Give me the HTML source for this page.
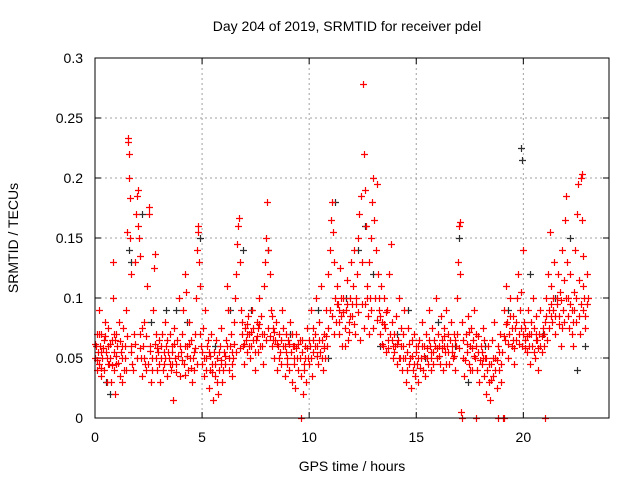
<!DOCTYPE html>
<html><head><meta charset="utf-8"><style>
html,body{margin:0;padding:0;background:#fff;}
svg{display:block;font-family:"Liberation Sans",sans-serif;}
</style></head><body>
<svg id="chart" width="640" height="480">
<text x="347" y="31" font-size="14" text-anchor="middle">Day 204 of 2019, SRMTID for receiver pdel</text>
<text x="352" y="471" font-size="14" text-anchor="middle">GPS time / hours</text>
<text transform="translate(18,238) rotate(-90)" font-size="14" text-anchor="middle">SRMTID / TECUs</text>
<g id="grid"></g>
<g id="ticks"></g>
<g id="black"></g>
<g id="red"></g>
<rect x="95" y="58" width="514" height="360" fill="none" stroke="#000" stroke-width="1"/>
</svg>
<script>
const xTicks=[0,5,10,15,20];
const yTicks=[0,0.05,0.1,0.15,0.2,0.25,0.3];
const yTickLabels=["0","0.05","0.1","0.15","0.2","0.25","0.3"];
const blackPts=[[0.5,0.03],[0.7,0.02],[1.6,0.14],[1.7,0.13],[2.2,0.17],[2.6,0.08],[3.3,0.09],[3.8,0.09],[4.3,0.08],[4.9,0.15],[5.6,0.06],[6.3,0.09],[6.9,0.14],[7.3,0.09],[8.1,0.14],[9.1,0.07],[10.4,0.09],[10.9,0.05],[11.2,0.18],[11.7,0.1],[12.3,0.14],[12.6,0.16],[13.0,0.12],[13.3,0.06],[14.1,0.07],[14.6,0.09],[15.4,0.05],[16.0,0.08],[16.8,0.06],[17.0,0.15],[17.4,0.03],[18.2,0.06],[19.3,0.09],[19.9,0.225],[19.95,0.215],[20.3,0.12],[20.9,0.07],[21.5,0.1],[22.2,0.15],[22.5,0.04],[22.9,0.06]];
const redPts=[
[0.0,0.05],[0.05,0.06],[0.1,0.04],[0.1,0.07],[0.15,0.055],[0.2,0.045],[0.2,0.09],[0.25,0.06],[0.3,0.035],[0.3,0.07],[0.35,0.05],[0.4,0.065],[0.4,0.04],[0.45,0.08],[0.5,0.055],[0.55,0.03],[0.6,0.06],[0.6,0.075],[0.65,0.045],[0.7,0.05],[0.75,0.03],[0.8,0.065],[0.85,0.1],[0.85,0.13],[0.9,0.055],[0.9,0.04],[0.95,0.02],[1.0,0.07],[1.0,0.045],[1.05,0.06],[1.1,0.08],[1.15,0.035],[1.2,0.055],[1.25,0.05],[1.3,0.075],[1.35,0.04],[1.4,0.06],[1.45,0.09],[1.5,0.155],[1.55,0.23],[1.55,0.233],[1.58,0.22],[1.6,0.2],[1.62,0.183],[1.65,0.15],[1.7,0.12],[1.7,0.06],[1.75,0.045],[1.8,0.07],[1.85,0.13],[1.9,0.17],[1.95,0.185],[2.0,0.19],[2.0,0.16],[2.05,0.15],[2.1,0.135],[2.1,0.07],[2.15,0.05],[2.2,0.035],[2.25,0.06],[2.3,0.08],[2.35,0.045],[2.4,0.04],[2.45,0.11],[2.5,0.17],[2.5,0.176],[2.55,0.06],[2.6,0.03],[2.65,0.05],[2.7,0.09],[2.75,0.125],[2.8,0.137],[2.85,0.07],[2.9,0.04],[2.95,0.055],[3.0,0.065],[3.05,0.03],[3.1,0.05],[3.15,0.07],[3.2,0.045],[3.25,0.08],[3.3,0.06],[3.35,0.035],[3.4,0.055],[3.45,0.05],[3.5,0.07],[3.55,0.04],[3.6,0.06],[3.65,0.015],[3.7,0.075],[3.75,0.05],[3.8,0.045],[3.85,0.065],[3.9,0.1],[3.95,0.035],[4.0,0.055],[4.05,0.07],[4.1,0.09],[4.15,0.045],[4.2,0.12],[4.25,0.105],[4.3,0.06],[4.35,0.04],[4.4,0.08],[4.45,0.05],[4.5,0.065],[4.55,0.03],[4.6,0.055],[4.65,0.07],[4.7,0.1],[4.75,0.14],[4.8,0.16],[4.82,0.155],[4.85,0.13],[4.9,0.11],[4.95,0.06],[5.0,0.045],[5.05,0.075],[5.1,0.035],[5.15,0.09],[5.2,0.05],[5.25,0.06],[5.3,0.025],[5.35,0.04],[5.4,0.07],[5.45,0.045],[5.5,0.015],[5.55,0.055],[5.6,0.035],[5.65,0.065],[5.7,0.05],[5.75,0.02],[5.8,0.04],[5.85,0.06],[5.9,0.075],[5.95,0.03],[6.0,0.055],[6.05,0.045],[6.1,0.065],[6.15,0.11],[6.2,0.09],[6.25,0.04],[6.3,0.06],[6.35,0.07],[6.4,0.035],[6.45,0.05],[6.5,0.08],[6.55,0.1],[6.6,0.12],[6.65,0.145],[6.7,0.16],[6.72,0.167],[6.75,0.13],[6.8,0.09],[6.85,0.07],[6.9,0.06],[6.95,0.045],[7.0,0.075],[7.05,0.065],[7.1,0.055],[7.15,0.085],[7.2,0.07],[7.25,0.05],[7.3,0.06],[7.35,0.09],[7.4,0.075],[7.45,0.04],[7.5,0.065],[7.55,0.08],[7.6,0.055],[7.65,0.1],[7.7,0.06],[7.75,0.085],[7.8,0.07],[7.85,0.045],[7.9,0.11],[7.95,0.13],[8.0,0.15],[8.05,0.18],[8.1,0.14],[8.15,0.12],[8.2,0.09],[8.25,0.06],[8.3,0.075],[8.35,0.05],[8.4,0.065],[8.45,0.08],[8.5,0.04],[8.55,0.06],[8.6,0.07],[8.65,0.055],[8.7,0.045],[8.75,0.09],[8.8,0.06],[8.85,0.035],[8.9,0.07],[8.95,0.05],[9.0,0.065],[9.05,0.04],[9.1,0.08],[9.15,0.055],[9.2,0.03],[9.25,0.06],[9.3,0.045],[9.35,0.025],[9.4,0.07],[9.45,0.05],[9.5,0.04],[9.55,0.065],[9.6,0.035],[9.6,0.0],[9.65,0.055],[9.7,0.02],[9.75,0.045],[9.8,0.06],[9.85,0.03],[9.9,0.075],[9.95,0.05],[10.0,0.045],[10.05,0.06],[10.1,0.09],[10.15,0.035],[10.2,0.055],[10.25,0.07],[10.3,0.1],[10.35,0.06],[10.4,0.045],[10.45,0.08],[10.5,0.055],[10.55,0.11],[10.6,0.065],[10.65,0.04],[10.7,0.07],[10.75,0.05],[10.8,0.09],[10.85,0.06],[10.9,0.12],[10.95,0.14],[11.0,0.165],[11.05,0.18],[11.1,0.155],[11.15,0.13],[11.2,0.1],[11.25,0.08],[11.3,0.11],[11.35,0.095],[11.4,0.07],[11.45,0.125],[11.5,0.085],[11.55,0.06],[11.6,0.1],[11.65,0.075],[11.7,0.09],[11.75,0.115],[11.8,0.065],[11.85,0.08],[11.9,0.1],[11.95,0.13],[12.0,0.085],[12.05,0.11],[12.1,0.14],[12.15,0.07],[12.2,0.095],[12.25,0.12],[12.3,0.15],[12.35,0.17],[12.4,0.185],[12.45,0.13],[12.5,0.278],[12.55,0.22],[12.6,0.19],[12.65,0.16],[12.7,0.11],[12.75,0.085],[12.8,0.13],[12.85,0.1],[12.9,0.15],[12.95,0.18],[13.0,0.2],[13.05,0.165],[13.1,0.14],[13.15,0.195],[13.2,0.12],[13.25,0.09],[13.3,0.07],[13.35,0.11],[13.4,0.08],[13.45,0.06],[13.5,0.1],[13.55,0.075],[13.6,0.055],[13.65,0.09],[13.7,0.065],[13.75,0.12],[13.8,0.145],[13.85,0.08],[13.9,0.05],[13.95,0.07],[14.0,0.06],[14.05,0.085],[14.1,0.045],[14.15,0.065],[14.2,0.1],[14.25,0.05],[14.3,0.075],[14.35,0.04],[14.4,0.06],[14.45,0.09],[14.5,0.03],[14.55,0.055],[14.6,0.075],[14.65,0.045],[14.7,0.05],[14.75,0.025],[14.8,0.065],[14.85,0.04],[14.9,0.07],[14.95,0.035],[15.0,0.055],[15.05,0.045],[15.1,0.03],[15.15,0.065],[15.2,0.05],[15.25,0.08],[15.3,0.04],[15.35,0.06],[15.4,0.035],[15.45,0.07],[15.5,0.05],[15.55,0.045],[15.6,0.09],[15.65,0.06],[15.7,0.04],[15.75,0.075],[15.8,0.055],[15.85,0.065],[15.9,0.1],[15.95,0.05],[16.0,0.07],[16.05,0.06],[16.1,0.045],[16.15,0.085],[16.2,0.065],[16.25,0.04],[16.3,0.075],[16.35,0.055],[16.4,0.09],[16.45,0.06],[16.5,0.07],[16.55,0.045],[16.6,0.08],[16.65,0.055],[16.7,0.05],[16.75,0.07],[16.8,0.04],[16.85,0.06],[16.9,0.1],[16.95,0.13],[17.0,0.16],[17.02,0.163],[17.05,0.12],[17.1,0.005],[17.15,0.0],[17.15,0.08],[17.2,0.05],[17.25,0.035],[17.3,0.07],[17.35,0.055],[17.4,0.085],[17.45,0.045],[17.5,0.06],[17.55,0.075],[17.6,0.04],[17.65,0.065],[17.7,0.09],[17.75,0.05],[17.8,0.0],[17.8,0.07],[17.85,0.04],[17.9,0.055],[17.95,0.03],[18.0,0.06],[18.05,0.045],[18.1,0.075],[18.15,0.035],[18.2,0.05],[18.25,0.02],[18.3,0.04],[18.35,0.06],[18.4,0.03],[18.45,0.015],[18.5,0.045],[18.55,0.065],[18.6,0.035],[18.65,0.08],[18.7,0.05],[18.75,0.025],[18.8,0.0],[18.8,0.06],[18.85,0.04],[18.9,0.07],[18.95,0.03],[19.0,0.055],[19.05,0.0],[19.1,0.0],[19.1,0.09],[19.15,0.065],[19.2,0.11],[19.25,0.08],[19.3,0.05],[19.35,0.07],[19.4,0.1],[19.45,0.06],[19.5,0.085],[19.55,0.045],[19.6,0.075],[19.65,0.065],[19.7,0.1],[19.75,0.12],[19.8,0.07],[19.85,0.09],[19.9,0.105],[19.95,0.06],[20.0,0.14],[20.05,0.08],[20.1,0.065],[20.15,0.055],[20.2,0.09],[20.25,0.07],[20.3,0.045],[20.35,0.08],[20.4,0.06],[20.45,0.1],[20.5,0.075],[20.55,0.05],[20.6,0.085],[20.65,0.065],[20.7,0.04],[20.75,0.07],[20.8,0.09],[20.85,0.055],[20.9,0.075],[20.95,0.06],[21.0,0.0],[21.0,0.08],[21.05,0.1],[21.1,0.065],[21.15,0.12],[21.2,0.09],[21.25,0.155],[21.3,0.11],[21.35,0.08],[21.4,0.1],[21.45,0.13],[21.5,0.07],[21.55,0.095],[21.6,0.12],[21.65,0.085],[21.7,0.105],[21.75,0.06],[21.8,0.14],[21.85,0.09],[21.9,0.115],[21.95,0.165],[22.0,0.185],[22.05,0.13],[22.1,0.1],[22.15,0.075],[22.2,0.12],[22.25,0.09],[22.3,0.06],[22.35,0.105],[22.4,0.14],[22.45,0.08],[22.5,0.17],[22.55,0.195],[22.6,0.115],[22.65,0.07],[22.7,0.2],[22.72,0.203],[22.75,0.165],[22.8,0.135],[22.85,0.1],[22.9,0.085],[22.95,0.12],[23.0,0.1],
[0.3,0.055],[0.6,0.045],[0.95,0.065],[1.25,0.03],[1.45,0.04],[2.2,0.075],[2.85,0.05],[3.2,0.055],[3.6,0.045],[4.2,0.06],[4.6,0.04],[5.3,0.055],[5.9,0.045],[6.4,0.055],[7.1,0.07],[7.6,0.075],[8.3,0.065],[8.9,0.055],[9.3,0.06],[9.8,0.05],[10.2,0.065],[10.7,0.06],[11.4,0.09],[11.9,0.085],[12.6,0.095],[13.3,0.085],[13.9,0.06],[14.4,0.05],[15.1,0.06],[15.7,0.055],[16.3,0.06],[16.8,0.065],[17.5,0.04],[18.1,0.05],[18.6,0.05],[19.5,0.065],[20.1,0.075],[20.6,0.07],[21.3,0.085],[21.8,0.075],[22.3,0.08],[22.8,0.09],
[0.02,0.062],[0.08,0.048],[0.18,0.07],[0.28,0.042],[0.38,0.058],[0.48,0.068],[0.58,0.05],[0.68,0.062],[0.78,0.044],[0.88,0.07],[0.98,0.052],[1.08,0.046],[1.18,0.064],[1.28,0.06],[1.38,0.05],[1.48,0.068],[1.68,0.055],[1.78,0.04],[1.88,0.062],[1.98,0.05],[2.08,0.058],[2.28,0.05],[2.38,0.068],[2.48,0.045],[2.58,0.056],[2.68,0.04],[2.78,0.062],[2.88,0.058],[2.98,0.045],[3.08,0.06],[3.18,0.04],[3.28,0.05],[3.38,0.065],[3.48,0.045],[3.58,0.055],[3.68,0.062],[3.78,0.038],[3.88,0.052],[3.98,0.06],[4.08,0.048],[4.18,0.036],[4.28,0.052],[4.38,0.062],[4.48,0.042],[4.58,0.05],[4.68,0.058],[4.78,0.045],[4.88,0.07],[4.98,0.055],[5.08,0.05],[5.18,0.04],[5.28,0.065],[5.38,0.052],[5.48,0.038],[5.58,0.045],[5.68,0.03],[5.78,0.055],[5.88,0.048],[5.98,0.04],[6.08,0.052],[6.18,0.06],[6.28,0.05],[6.38,0.045],[6.48,0.062],[6.58,0.055],[6.78,0.058],[6.88,0.08],[6.98,0.062],[7.08,0.078],[7.18,0.06],[7.28,0.072],[7.38,0.065],[7.48,0.055],[7.58,0.068],[7.68,0.078],[7.78,0.06],[7.88,0.07],[7.98,0.065],[8.08,0.075],[8.18,0.068],[8.28,0.085],[8.38,0.072],[8.48,0.062],[8.58,0.05],[8.68,0.065],[8.78,0.075],[8.88,0.06],[8.98,0.045],[9.08,0.062],[9.18,0.07],[9.28,0.05],[9.38,0.058],[9.48,0.062],[9.58,0.05],[9.68,0.065],[9.78,0.04],[9.88,0.058],[9.98,0.065],[10.08,0.05],[10.18,0.075],[10.28,0.06],[10.38,0.052],[10.48,0.065],[10.58,0.05],[10.68,0.058],[10.78,0.068],[10.88,0.075],[10.98,0.09],[11.08,0.085],[11.18,0.07],[11.28,0.095],[11.38,0.08],[11.48,0.1],[11.58,0.088],[11.68,0.06],[11.78,0.095],[11.88,0.072],[11.98,0.095],[12.08,0.078],[12.18,0.1],[12.28,0.088],[12.38,0.065],[12.48,0.095],[12.58,0.075],[12.68,0.1],[12.78,0.07],[12.88,0.09],[12.98,0.075],[13.08,0.1],[13.18,0.082],[13.28,0.1],[13.38,0.062],[13.48,0.078],[13.58,0.088],[13.68,0.058],[13.78,0.07],[13.88,0.065],[13.98,0.055],[14.08,0.062],[14.18,0.05],[14.28,0.06],[14.38,0.07],[14.48,0.05],[14.58,0.04],[14.68,0.062],[14.78,0.052],[14.88,0.045],[14.98,0.06],[15.08,0.05],[15.18,0.042],[15.28,0.06],[15.38,0.052],[15.48,0.058],[15.58,0.065],[15.68,0.05],[15.78,0.045],[15.88,0.06],[15.98,0.058],[16.08,0.052],[16.18,0.058],[16.28,0.068],[16.38,0.045],[16.48,0.055],[16.58,0.065],[16.68,0.06],[16.78,0.052],[16.88,0.07],[16.98,0.058],[17.18,0.065],[17.28,0.048],[17.38,0.062],[17.48,0.072],[17.58,0.058],[17.68,0.052],[17.78,0.06],[17.88,0.068],[17.98,0.048],[18.08,0.055],[18.18,0.065],[18.28,0.05],[18.38,0.045],[18.48,0.032],[18.58,0.05],[18.68,0.04],[18.78,0.048],[18.88,0.055],[18.98,0.045],[19.08,0.068],[19.18,0.078],[19.28,0.062],[19.38,0.085],[19.48,0.075],[19.58,0.058],[19.68,0.08],[19.78,0.062],[19.88,0.075],[19.98,0.07],[20.08,0.058],[20.18,0.068],[20.28,0.06],[20.38,0.07],[20.48,0.055],[20.58,0.065],[20.68,0.058],[20.78,0.06],[20.88,0.068],[20.98,0.07],[21.08,0.085],[21.18,0.075],[21.28,0.095],[21.38,0.09],[21.48,0.085],[21.58,0.1],[21.68,0.078],[21.78,0.098],[21.88,0.08],[21.98,0.1],[22.08,0.085],[22.18,0.095],[22.28,0.07],[22.38,0.09],[22.48,0.1],[22.58,0.085],[22.68,0.095],[22.78,0.11],[22.88,0.075],[22.98,0.095]
];
const X0=95,X1=609,Y0=418,Y1=58,XMAX=24,YMAX=0.3;
function sx(t){return X0+(X1-X0)*t/XMAX;}
function sy(v){return Y0-(Y0-Y1)*v/YMAX;}
const NS="http://www.w3.org/2000/svg";
function mk(tag,attrs,parent){const e=document.createElementNS(NS,tag);for(const k in attrs)e.setAttribute(k,attrs[k]);parent.appendChild(e);return e;}
const grid=document.getElementById('grid'),ticks=document.getElementById('ticks');
xTicks.forEach(t=>{const x=sx(t);
 if(t>0){const g=mk('line',{x1:x,x2:x,y1:Y1,y2:Y0,stroke:'#a0a0a0','stroke-dasharray':'2,3'},grid);
 
 }
 mk('line',{x1:x,x2:x,y1:Y0,y2:Y0-6,stroke:'#000'},ticks);
 mk('line',{x1:x,x2:x,y1:Y1,y2:Y1+6,stroke:'#000'},ticks);
 const l=mk('text',{x:x,y:Y0+24,'font-size':14,'text-anchor':'middle'},ticks);l.textContent=t;
 
 });
yTicks.forEach((v,i)=>{const y=sy(v);
 if(v>0&&v<YMAX){const g=mk('line',{x1:X0,x2:X1,y1:y,y2:y,stroke:'#a0a0a0','stroke-dasharray':'2,3'},grid);
 
 }
 mk('line',{x1:X0,x2:X0+6,y1:y,y2:y,stroke:'#000'},ticks);
 mk('line',{x1:X1,x2:X1-6,y1:y,y2:y,stroke:'#000'},ticks);
 const l=mk('text',{x:X0-12,y:y+5,'font-size':14,'text-anchor':'end'},ticks);l.textContent=yTickLabels[i];
 
 });
function plus(pts,color,gid,name){const g=document.getElementById(gid);let d='';
 pts.forEach(p=>{const x=Math.round(sx(p[0]))+0.5,y=Math.round(sy(p[1]))+0.5;d+=`M${x-3.5},${y}h7M${x},${y-3.5}v7`;});
 const pa=mk('path',{d:d,stroke:color,'stroke-width':1.2,fill:'none'},g);
 
 }
plus(blackPts,'#303030','black','black-markers');
plus(redPts,'#ff0000','red','red-markers');
</script>
</body></html>
